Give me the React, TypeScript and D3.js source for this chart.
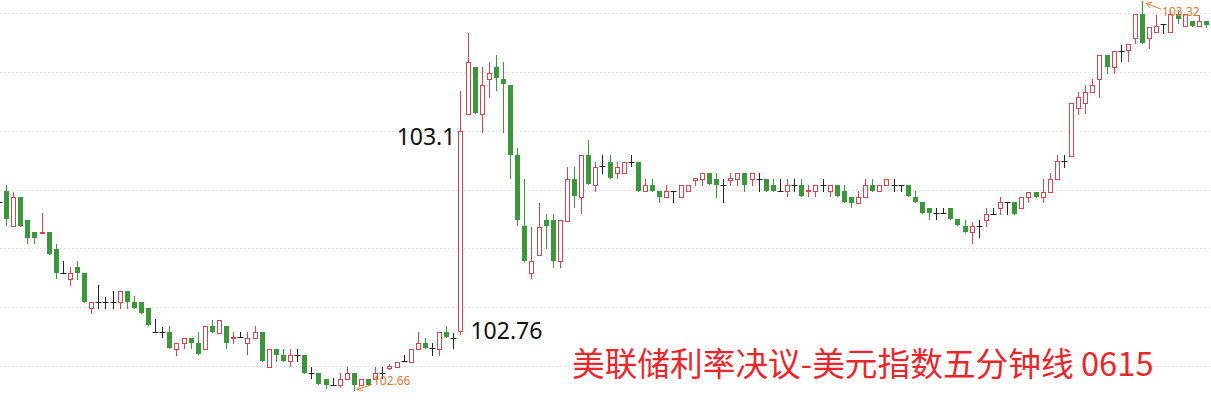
import React from 'react';
import * as d3 from 'd3';

// OHLC of five-minute candles (index 0 is partially cut off at left edge)
const OPEN = [
  102.979, 102.997, 102.938, 102.987, 102.948, 102.928, 102.926, 102.928, 102.899, 102.858,
  102.848, 102.868, 102.858, 102.798, 102.809, 102.809, 102.809, 102.809, 102.827, 102.809,
  102.809, 102.798, 102.757, 102.757, 102.757, 102.729, 102.739, 102.747, 102.739, 102.729,
  102.768, 102.756, 102.768, 102.747, 102.749, 102.739, 102.747, 102.757, 102.698, 102.729,
  102.718, 102.708, 102.718, 102.718, 102.688, 102.688, 102.678, 102.667, 102.667, 102.678,
  102.688, 102.667, 102.678, 102.678, 102.688, 102.697, 102.698, 102.708, 102.706, 102.729,
  102.739, 102.730, 102.729, 102.757, 102.747, 102.760, 103.128, 103.208, 103.128, 103.188,
  103.208, 103.188, 103.178, 103.059, 102.938, 102.858, 102.888, 102.948, 102.948, 102.878,
  102.946, 103.018, 102.987, 103.059, 103.008, 103.040, 103.047, 103.028, 103.028, 103.047,
  103.047, 102.997, 103.008, 102.997, 102.987, 102.997, 102.987, 102.997, 103.016, 103.018,
  103.028, 103.018, 103.008, 103.016, 103.018, 103.028, 103.018, 103.018, 103.018, 103.008,
  102.997, 102.997, 103.008, 103.008, 102.997, 102.997, 103.008, 102.997, 103.008, 102.997,
  102.987, 102.977, 102.987, 103.008, 102.997, 103.008, 103.008, 103.008, 103.008, 102.987,
  102.979, 102.968, 102.960, 102.960, 102.968, 102.950, 102.938, 102.928, 102.938, 102.948,
  102.958, 102.968, 102.979, 102.979, 102.968, 102.987, 102.996, 102.987, 102.996, 103.018,
  103.048, 103.057, 103.138, 103.147, 103.166, 103.188, 103.229, 103.208, 103.235, 103.237,
  103.257, 103.298, 103.257, 103.268, 103.281, 103.268, 103.298, 103.278, 103.286, 103.278,
  103.286,
];

const HIGH = [
  102.984, 103.008, 102.996, 102.987, 102.948, 102.928, 102.960, 102.928, 102.907, 102.878,
  102.868, 102.878, 102.858, 102.809, 102.837, 102.817, 102.827, 102.827, 102.827, 102.819,
  102.809, 102.798, 102.780, 102.766, 102.768, 102.739, 102.747, 102.747, 102.757, 102.768,
  102.778, 102.778, 102.768, 102.757, 102.757, 102.757, 102.768, 102.757, 102.729, 102.729,
  102.729, 102.729, 102.729, 102.718, 102.698, 102.688, 102.678, 102.679, 102.688, 102.698,
  102.688, 102.678, 102.678, 102.698, 102.698, 102.703, 102.706, 102.718, 102.729, 102.757,
  102.747, 102.739, 102.757, 102.768, 102.756, 103.167, 103.266, 103.208, 103.208, 103.217,
  103.229, 103.217, 103.178, 103.070, 103.018, 102.936, 102.977, 102.958, 102.958, 102.948,
  103.038, 103.038, 103.059, 103.084, 103.047, 103.059, 103.059, 103.047, 103.047, 103.059,
  103.047, 103.018, 103.018, 102.997, 103.008, 102.997, 103.008, 103.008, 103.019, 103.028,
  103.028, 103.028, 103.018, 103.028, 103.028, 103.028, 103.028, 103.028, 103.018, 103.018,
  103.018, 103.018, 103.018, 103.018, 103.008, 103.008, 103.018, 103.008, 103.008, 103.008,
  102.987, 102.997, 103.018, 103.018, 103.008, 103.018, 103.018, 103.008, 103.008, 102.997,
  102.979, 102.968, 102.968, 102.968, 102.968, 102.950, 102.948, 102.945, 102.948, 102.968,
  102.968, 102.987, 102.979, 102.979, 102.987, 102.996, 102.996, 103.018, 103.028, 103.059,
  103.059, 103.147, 103.166, 103.178, 103.188, 103.229, 103.229, 103.235, 103.246, 103.247,
  103.298, 103.320, 103.276, 103.297, 103.281, 103.305, 103.305, 103.298, 103.286, 103.297,
  103.286,
];

const LOW = [
  102.974, 102.939, 102.938, 102.938, 102.909, 102.909, 102.926, 102.890, 102.849, 102.858,
  102.837, 102.848, 102.809, 102.790, 102.798, 102.798, 102.798, 102.798, 102.798, 102.798,
  102.790, 102.769, 102.757, 102.749, 102.730, 102.718, 102.730, 102.730, 102.720, 102.729,
  102.757, 102.756, 102.730, 102.739, 102.749, 102.720, 102.747, 102.708, 102.698, 102.708,
  102.708, 102.700, 102.708, 102.688, 102.679, 102.669, 102.663, 102.667, 102.664, 102.678,
  102.660, 102.667, 102.667, 102.678, 102.679, 102.695, 102.698, 102.708, 102.706, 102.729,
  102.730, 102.718, 102.718, 102.749, 102.730, 102.755, 103.128, 103.130, 103.098, 103.157,
  103.169, 103.098, 103.019, 102.939, 102.878, 102.849, 102.888, 102.900, 102.868, 102.868,
  102.946, 102.970, 102.960, 103.009, 102.997, 103.028, 103.019, 103.019, 103.028, 103.040,
  102.997, 102.997, 102.997, 102.979, 102.987, 102.979, 102.987, 102.997, 103.008, 103.008,
  103.009, 102.987, 102.979, 103.008, 103.008, 102.997, 103.008, 102.997, 102.997, 102.997,
  102.997, 102.989, 102.997, 102.989, 102.989, 102.989, 102.997, 102.989, 102.989, 102.979,
  102.970, 102.977, 102.987, 102.997, 102.997, 103.008, 102.997, 102.997, 102.989, 102.979,
  102.960, 102.950, 102.950, 102.960, 102.950, 102.939, 102.928, 102.909, 102.919, 102.938,
  102.958, 102.958, 102.958, 102.958, 102.968, 102.979, 102.987, 102.979, 102.996, 103.018,
  103.038, 103.057, 103.128, 103.130, 103.166, 103.157, 103.198, 103.198, 103.218, 103.218,
  103.249, 103.249, 103.240, 103.268, 103.266, 103.268, 103.283, 103.278, 103.278, 103.278,
  103.276,
];

const CLOSE = [
  102.979, 102.950, 102.987, 102.938, 102.917, 102.917, 102.928, 102.890, 102.858, 102.858,
  102.858, 102.858, 102.809, 102.809, 102.809, 102.809, 102.809, 102.827, 102.809, 102.798,
  102.790, 102.769, 102.757, 102.757, 102.730, 102.739, 102.747, 102.739, 102.720, 102.768,
  102.757, 102.778, 102.739, 102.750, 102.749, 102.747, 102.757, 102.708, 102.729, 102.718,
  102.708, 102.718, 102.718, 102.688, 102.688, 102.669, 102.667, 102.667, 102.678, 102.688,
  102.667, 102.678, 102.667, 102.688, 102.688, 102.700, 102.706, 102.708, 102.729, 102.739,
  102.730, 102.730, 102.757, 102.749, 102.747, 103.100, 103.217, 103.130, 103.178, 103.198,
  103.189, 103.179, 103.059, 102.948, 102.878, 102.878, 102.936, 102.938, 102.878, 102.948,
  103.018, 102.989, 103.059, 103.009, 103.038, 103.040, 103.019, 103.038, 103.047, 103.047,
  102.997, 103.008, 102.997, 102.987, 102.997, 102.997, 103.008, 103.008, 103.019, 103.028,
  103.009, 103.008, 103.008, 103.019, 103.028, 103.008, 103.028, 103.018, 102.997, 102.997,
  102.997, 103.008, 103.008, 102.989, 102.999, 103.008, 103.008, 103.008, 102.989, 102.979,
  102.977, 102.987, 103.008, 102.997, 103.008, 103.018, 103.008, 103.008, 102.989, 102.979,
  102.960, 102.960, 102.960, 102.960, 102.950, 102.939, 102.928, 102.938, 102.938, 102.958,
  102.958, 102.979, 102.979, 102.958, 102.987, 102.996, 102.987, 102.996, 103.018, 103.048,
  103.048, 103.147, 103.157, 103.166, 103.178, 103.229, 103.208, 103.235, 103.235, 103.247,
  103.298, 103.249, 103.276, 103.278, 103.281, 103.298, 103.290, 103.298, 103.278, 103.286,
  103.280,
];

const GRID_LEVELS = [102.7, 102.8, 102.9, 103.0, 103.1, 103.2, 103.3];

const TITLE = '美联储利率决议-美元指数五分钟线 0615';
const MARK_BIG_CANDLE = 65;
const MARK_HIGH_TEXT = '103.1';
const MARK_LOW_TEXT = '102.76';
const EXTREME_LOW_INDEX = 50;
const EXTREME_LOW_TEXT = '102.66';
const EXTREME_HIGH_INDEX = 161;
const EXTREME_HIGH_TEXT = '103.32';

const W = 1211;
const H = 402;
const RED = '#d9444c';
const GREEN = '#3a983a';
const DOJI = '#222222';
const ORANGE = '#e6782f';

export default function App() {
  const x = d3.scaleLinear().domain([1, 170]).range([6, 1206]);
  const y = d3.scaleLinear().domain([102.7, 103.3]).range([366, 13]);

  const candles = OPEN.map((o, i) => {
    const c = CLOSE[i];
    const h = HIGH[i];
    const l = LOW[i];
    const cx = Math.round(x(i)) + 0.5;
    const color = c > o ? RED : c < o ? GREEN : DOJI;
    const yTop = Math.round(y(Math.max(o, c)));
    const yBot = Math.round(y(Math.min(o, c)));
    const yH = Math.round(y(h));
    const yL = Math.round(y(l));
    const wick = <line x1={cx} x2={cx} y1={yH} y2={yL + 1} stroke={color} strokeWidth={1} />;
    if (color === DOJI) {
      return (
        <g key={i}>
          {wick}
          <line x1={cx - 3} x2={cx + 3} y1={yTop + 0.5} y2={yTop + 0.5} stroke={color} strokeWidth={1} />
        </g>
      );
    }
    if (color === RED) {
      const hgt = Math.max(1, yBot - yTop);
      return (
        <g key={i}>
          {wick}
          <rect x={cx - 2} y={yTop + 0.5} width={4} height={hgt} fill="#fff" stroke={RED} strokeWidth={1} />
        </g>
      );
    }
    const hgt = Math.max(1, yBot - yTop);
    return (
      <g key={i}>
        {wick}
        <rect x={cx - 2.5} y={yTop} width={5} height={hgt} fill={GREEN} />
      </g>
    );
  });

  const bx = x(MARK_BIG_CANDLE);
  const lowX = x(EXTREME_LOW_INDEX) + 3;
  const lowY = y(LOW[EXTREME_LOW_INDEX]);
  const highX = x(EXTREME_HIGH_INDEX) + 4;
  const highY = y(HIGH[EXTREME_HIGH_INDEX]) + 2;

  const arrow = (ax: number, ay: number, tx: number, ty: number) => {
    const ang = Math.atan2(ty - ay, tx - ax);
    const len = 6;
    const a1 = ang + 0.5;
    const a2 = ang - 0.5;
    return `M${tx},${ty}L${ax},${ay}M${ax + len * Math.cos(a1)},${ay + len * Math.sin(a1)}L${ax},${ay}L${ax + len * Math.cos(a2)},${ay + len * Math.sin(a2)}`;
  };

  return (
    <svg
      width={W}
      height={H}
      style={{ position: 'absolute', left: 0, top: 0, background: '#fff' }}
      fontFamily="'Noto Sans', 'Noto Sans CJK SC', sans-serif"
    >
      <rect x={0} y={0} width={W} height={H} fill="#fff" />
      {GRID_LEVELS.map((g) => (
        <line
          key={g}
          x1={0}
          x2={W}
          y1={Math.round(y(g)) + 0.5}
          y2={Math.round(y(g)) + 0.5}
          stroke="#dcdcdc"
          strokeWidth={1}
          strokeDasharray="1.5,2.5"
        />
      ))}
      {candles}
      <text x={bx - 5} y={y(+MARK_HIGH_TEXT) + 14} fontSize={23} textAnchor="end" fill="#111">
        {MARK_HIGH_TEXT}
      </text>
      <text x={bx + 10} y={y(+MARK_LOW_TEXT) + 8} fontSize={23} textAnchor="start" fill="#111">
        {MARK_LOW_TEXT}
      </text>
      <path d={arrow(lowX, lowY, lowX + 15, lowY - 5)} stroke={ORANGE} fill="none" strokeWidth={1} />
      <text x={lowX + 16} y={lowY - 5} fontSize={12} fill={ORANGE}>
        {EXTREME_LOW_TEXT}
      </text>
      <path d={arrow(highX, highY, highX + 15, highY + 6)} stroke={ORANGE} fill="none" strokeWidth={1} />
      <text x={highX + 16} y={highY + 13} fontSize={12} fill={ORANGE}>
        {EXTREME_HIGH_TEXT}
      </text>
      <text x={572} y={376} fontSize={32.7} fill="#e8262b" fontFamily="'Noto Sans CJK SC', 'Noto Sans', sans-serif">
        {TITLE}
      </text>
    </svg>
  );
}
